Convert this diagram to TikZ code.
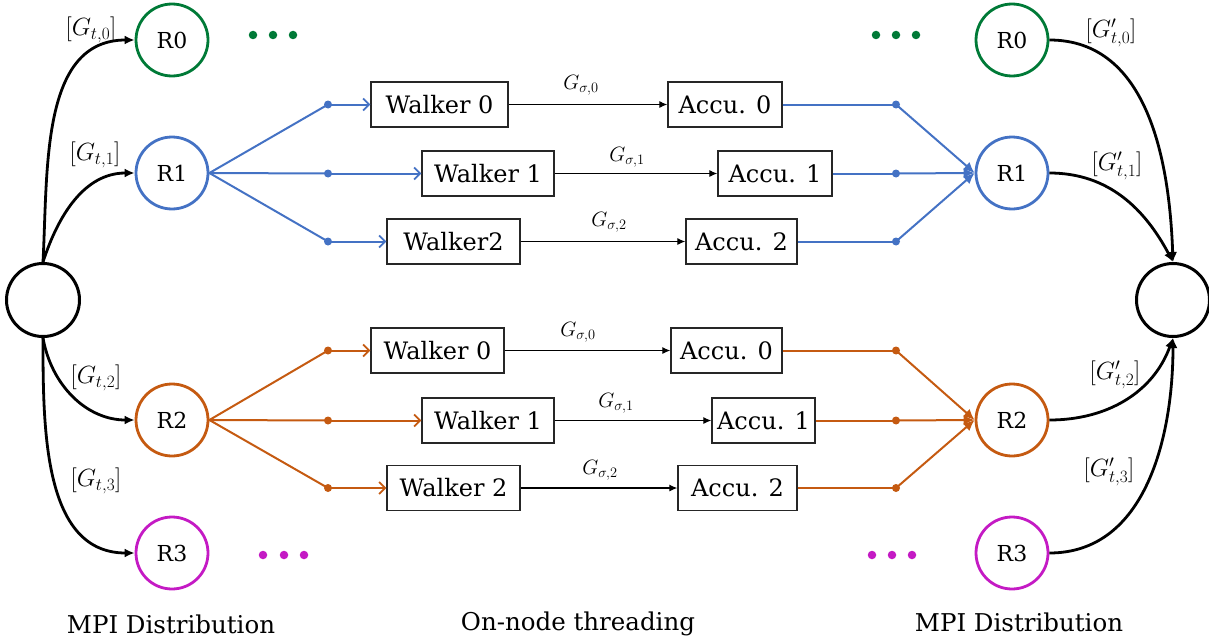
\documentclass[tikz,border=0pt]{standalone}
\usepackage{fontspec}
\setmainfont{DejaVu Serif}
\usetikzlibrary{arrows.meta}

\definecolor{rgreen}{RGB}{0,122,55}
\definecolor{rblue}{RGB}{68,114,196}
\definecolor{rorange}{RGB}{197,90,17}
\definecolor{rmagenta}{RGB}{196,26,196}

\tikzset{
  rank/.style={circle, draw=#1, line width=2.8pt, minimum size=72pt, inner sep=0pt,
               font=\fontsize{22}{22}\selectfont},
  hub/.style={circle, draw=black, line width=3pt, minimum size=73pt, inner sep=0pt},
  task/.style={draw=black!85, line width=1.4pt, minimum height=45pt, inner sep=0pt,
               font=\fontsize{24}{24}\selectfont},
  junction/.style={circle, fill=#1, inner sep=0pt, minimum size=8pt},
  ellip/.style={circle, fill=#1, inner sep=0pt, minimum size=8.5pt},
  comm/.style={line width=2.8pt, -{Latex[length=10pt,width=9pt]}},
  fan/.style={draw=#1, line width=2pt},
  feed/.style={draw=#1, line width=2pt, -{Straight Barb[length=6pt,width=12pt,line width=1.8pt]}},
  merge/.style={draw=#1, line width=2pt, -{Latex[length=11pt,width=10pt]}},
  work/.style={line width=1.1pt, -{Latex[length=8pt,width=7pt]}},
  glabel/.style={font=\fontsize{26}{26}\selectfont, inner sep=0pt},
  slabel/.style={font=\fontsize{21}{21}\selectfont, inner sep=0pt},
  caption/.style={font=\fontsize{24.5}{24.5}\selectfont, inner sep=0pt},
}

\begin{document}
\begin{tikzpicture}[x=1pt, y=1pt]
\useasboundingbox (0,0) rectangle (1209,-642);

% global source and sink
\node[hub] (L) at (43,-300) {};
\node[hub] (RB) at (1173,-300) {};

% MPI ranks, left
\node[rank=rgreen]   (R0L) at (172,-40)  {R0};
\node[rank=rblue]    (R1L) at (172,-173) {R1};
\node[rank=rorange]  (R2L) at (172,-420) {R2};
\node[rank=rmagenta] (R3L) at (172,-553) {R3};

% MPI ranks, right
\node[rank=rgreen]   (R0R) at (1012,-40)  {R0};
\node[rank=rblue]    (R1R) at (1012,-173) {R1};
\node[rank=rorange]  (R2R) at (1012,-420) {R2};
\node[rank=rmagenta] (R3R) at (1012,-553) {R3};

% ellipses for the remaining ranks
\foreach \x [count=\i] in {253,273,293} \node[ellip=rgreen] (gl\i) at (\x,-35) {};
\foreach \x [count=\i] in {876,896,916} \node[ellip=rgreen] (gr\i) at (\x,-35) {};
\foreach \x [count=\i] in {263,284,304} \node[ellip=rmagenta] (ml\i) at (\x,-555) {};
\foreach \x [count=\i] in {872,892,912} \node[ellip=rmagenta] (mr\i) at (\x,-555) {};

% scatter from the source
\draw[comm] (L.north) to[out=87,in=180] (R0L.west);
\draw[comm] (L.north) to[out=72,in=180] (R1L.west);
\draw[comm] (L.south) to[out=-80,in=180] (R2L.west);
\draw[comm] (L.south) to[out=-90,in=180] (R3L.west);

% gather into the sink
\draw[comm] (R0R.east) to[out=0,in=92] (RB.north);
\draw[comm] (R1R.east) to[out=0,in=118] (RB.north);
\draw[comm] (R2R.east) to[out=0,in=-110] (RB.south);
\draw[comm] (R3R.east) to[out=0,in=-90] (RB.south);

% labels of the MPI transfers
\node[glabel] at (91,-30)   {$[G_{t,0}]$};
\node[glabel] at (95,-155)  {$[G_{t,1}]$};
\node[glabel] at (96,-378)  {$[G_{t,2}]$};
\node[glabel] at (96,-481)  {$[G_{t,3}]$};
\node[glabel] at (1111,-33) {$[G'_{t,0}]$};
\node[glabel] at (1117,-166){$[G'_{t,1}]$};
\node[glabel] at (1115,-375){$[G'_{t,2}]$};
\node[glabel] at (1109,-472){$[G'_{t,3}]$};

% ---------- threads of rank 1 ----------
\node[task, minimum width=137pt] (bW0) at (439.5,-104.5) {Walker 0};
\node[task, minimum width=114pt] (bA0) at (725,-104.5)   {Accu. 0};
\node[task, minimum width=132pt] (bW1) at (488,-173.5)   {Walker 1};
\node[task, minimum width=114pt] (bA1) at (775,-173.5)   {Accu. 1};
\node[task, minimum width=133pt] (bW2) at (453.5,-241.5) {Walker2};
\node[task, minimum width=111pt] (bA2) at (741.5,-241.5) {Accu. 2};

\node[junction=rblue] (bs0) at (328,-104.5) {};
\node[junction=rblue] (bs1) at (328,-173.5) {};
\node[junction=rblue] (bs2) at (328,-241.5) {};
\node[junction=rblue] (bm0) at (896,-104.5) {};
\node[junction=rblue] (bm1) at (896,-173.5) {};
\node[junction=rblue] (bm2) at (896,-241.5) {};

\foreach \k in {0,1,2} {
  \draw[fan=rblue] (R1L.east) -- (bs\k.center);
  \draw[feed=rblue] (bs\k.center) -- (bW\k.west);
  \draw[work] (bW\k.east) -- (bA\k.west);
  \draw[fan=rblue] (bA\k.east) -- (bm\k.center);
  \draw[merge=rblue] (bm\k.center) -- (R1R.west);
}
\node[slabel] at (581,-85)  {$G_{\sigma,0}$};
\node[slabel] at (627,-157) {$G_{\sigma,1}$};
\node[slabel] at (609,-222) {$G_{\sigma,2}$};

% ---------- threads of rank 2 ----------
\node[task, minimum width=133pt] (oW0) at (437.5,-350.5) {Walker 0};
\node[task, minimum width=111pt] (oA0) at (726.5,-350.5) {Accu. 0};
\node[task, minimum width=132pt] (oW1) at (488,-420.5)   {Walker 1};
\node[task, minimum width=103pt] (oA1) at (763.5,-420.5) {Accu. 1};
\node[task, minimum width=133pt] (oW2) at (453.5,-488)   {Walker 2};
\node[task, minimum width=119pt] (oA2) at (737.5,-488)   {Accu. 2};

\node[junction=rorange] (os0) at (328,-350.5) {};
\node[junction=rorange] (os1) at (328,-420.5) {};
\node[junction=rorange] (os2) at (328,-488) {};
\node[junction=rorange] (om0) at (896,-350.5) {};
\node[junction=rorange] (om1) at (896,-420.5) {};
\node[junction=rorange] (om2) at (896,-488) {};

\foreach \k in {0,1,2} {
  \draw[fan=rorange] (R2L.east) -- (os\k.center);
  \draw[feed=rorange] (os\k.center) -- (oW\k.west);
  \draw[work] (oW\k.east) -- (oA\k.west);
  \draw[fan=rorange] (oA\k.east) -- (om\k.center);
  \draw[merge=rorange] (om\k.center) -- (R2R.west);
}
\node[slabel] at (578,-332) {$G_{\sigma,0}$};
\node[slabel] at (616,-403) {$G_{\sigma,1}$};
\node[slabel] at (600,-470) {$G_{\sigma,2}$};

% captions
\node[caption] (c1) at (171,-624)  {MPI Distribution};
\node[caption] (c2) at (578,-624)  {On-node threading};
\node[caption] (c3) at (1019,-622) {MPI Distribution};
\end{tikzpicture}
\end{document}
